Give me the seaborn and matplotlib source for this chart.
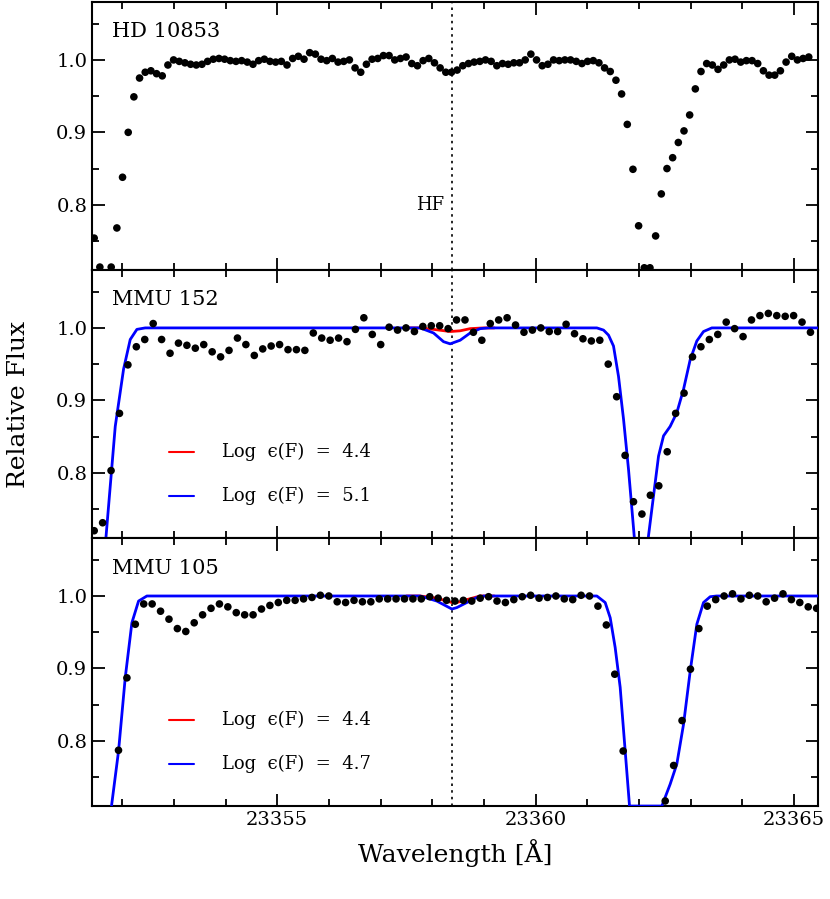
import numpy as np
import pandas as pd
import seaborn as sns
import matplotlib.pyplot as plt
from matplotlib.ticker import MultipleLocator

sns.set_style("ticks")
plt.rcParams['font.family'] = ['DejaVu Serif', 'DejaVu Sans']
for key in ['text.color', 'axes.labelcolor', 'xtick.color', 'ytick.color', 'axes.edgecolor']:
    plt.rcParams[key] = 'black'

# observed spectra (uniform wavelength sampling)
hd_start, hd_step = 23351.35, 0.1097
hd_flux = [0.823, 0.754, 0.714, 0.70, 0.714, 0.768, 0.838, 0.900, 0.949, 0.975,
           0.983, 0.985, 0.981, 0.978, 0.993, 1.0,
           0.998, 0.996, 0.994, 0.993, 0.994, 0.998, 1.001, 1.002, 1.001, 0.999,
           0.998, 0.999, 0.997, 0.994, 0.999, 1.001, 0.998, 0.997, 0.998, 0.993,
           1.002, 1.005, 1.001, 1.010, 1.008, 1.001, 0.999, 1.002, 0.997, 0.998,
           1.0, 0.989, 0.983, 0.994, 1.001, 1.002, 1.006, 1.006, 1.0, 1.002,
           1.004, 0.995, 0.992, 0.999, 1.002, 0.996, 0.989, 0.983, 0.983, 0.986,
           0.992, 0.995, 0.997, 0.998, 1.0, 0.998, 0.992, 0.995, 0.994, 0.996,
           0.996, 1.0, 1.008, 1.0, 0.992, 0.994, 1.0, 0.999, 1.0, 1.0,
           0.998, 0.995, 0.998, 0.999, 0.996, 0.989, 0.984, 0.972, 0.953, 0.911,
           0.849, 0.771, 0.713, 0.713, 0.757, 0.815, 0.850, 0.865, 0.886, 0.902,
           0.924, 0.960, 0.984, 0.995, 0.993, 0.987, 0.993, 1.0, 1.001, 0.997,
           0.999, 0.999, 0.995, 0.985, 0.979, 0.979, 0.985, 0.997, 1.005, 1.0,
           1.002, 1.004]

m152_start, m152_step = 23351.46, 0.163
m152_flux = [0.720, 0.731, 0.803, 0.882, 0.949, 0.974, 0.984, 1.006, 0.984, 0.965,
             0.979, 0.976, 0.972, 0.977, 0.967, 0.960, 0.969, 0.986, 0.977, 0.962,
             0.971, 0.975, 0.977, 0.970, 0.970, 0.969, 0.993, 0.986, 0.983, 0.986,
             0.981, 0.998, 1.014, 0.991, 0.977, 1.001, 0.997, 1.0, 0.995, 1.002,
             1.003, 1.003, 0.999,
             1.011, 1.011, 0.994, 0.983, 1.006, 1.011, 1.014, 1.004, 0.994, 0.997,
             1.0, 0.995, 0.995, 1.005, 0.992, 0.985, 0.982, 0.983, 0.950, 0.905,
             0.824, 0.760, 0.743, 0.769, 0.782, 0.829, 0.882, 0.910, 0.960, 0.974,
             0.984, 0.991, 1.008, 0.999, 0.988, 1.011, 1.017, 1.020, 1.017, 1.016,
             1.017, 1.008, 0.994]

m105_start, m105_step = 23351.93, 0.1627
m105_flux = [0.787, 0.887, 0.961, 0.989, 0.989, 0.979, 0.968, 0.955, 0.951, 0.963,
             0.974, 0.983, 0.989, 0.985, 0.977, 0.974, 0.974, 0.982, 0.987, 0.991,
             0.994, 0.994, 0.996, 0.998, 1.001, 1.0, 0.992, 0.991, 0.994, 0.992,
             0.992, 0.996, 0.996, 0.996, 0.996, 0.996, 0.996, 0.999, 0.997, 0.994,
             0.993,
             0.994, 0.993, 0.997, 0.999, 0.993, 0.991, 0.995, 0.999, 1.001, 0.997,
             0.998, 1.0, 0.996, 0.995, 1.001, 1.0, 0.986, 0.960, 0.892, 0.786,
             0.65, 0.65, 0.65, 0.65, 0.717, 0.766, 0.828, 0.899, 0.955, 0.986,
             0.995, 1.0, 1.003, 0.996, 1.001, 1.0, 0.992, 0.997, 1.003, 0.995,
             0.991, 0.985, 0.983]

# synthetic spectra
m152_blue_w = [23351.62, 23351.69, 23351.867, 23352.028, 23352.157, 23352.286, 23352.447,
               23357.766, 23358.024, 23358.217, 23358.346, 23358.539, 23358.733, 23358.926,
               23359.087, 23361.183, 23361.312, 23361.409, 23361.505, 23361.602, 23361.699,
               23361.795, 23361.905, 23362.05, 23362.182, 23362.279, 23362.376, 23362.473,
               23362.601, 23362.730, 23362.859, 23362.988, 23363.117, 23363.246, 23363.407,
               23365.6]
m152_blue_f = [0.65, 0.713, 0.864, 0.943, 0.984, 0.998, 1.0,
               1.0, 0.993, 0.981, 0.978, 0.983, 0.993, 0.999,
               1.0, 1.0, 0.997, 0.990, 0.975, 0.933, 0.874,
               0.805, 0.713, 0.60, 0.713, 0.768, 0.823, 0.851,
               0.864, 0.883, 0.915, 0.956, 0.982, 0.995, 1.0,
               1.0]
m152_red_w = [23357.5, 23357.766, 23358.024, 23358.346, 23358.539, 23358.733, 23358.991, 23359.2]
m152_red_f = [1.0, 1.0, 0.998, 0.995, 0.996, 0.999, 1.0, 1.0]

m105_blue_w = [23351.75, 23351.80, 23351.931, 23352.06, 23352.189, 23352.318, 23352.479,
               23357.766, 23358.088, 23358.379, 23358.475, 23358.668, 23358.862, 23358.991,
               23361.183, 23361.344, 23361.441, 23361.537, 23361.634, 23361.731, 23361.815,
               23362.44, 23362.60, 23362.73, 23362.86, 23362.99, 23363.117, 23363.246,
               23363.375, 23363.5, 23365.6]
m105_blue_f = [0.68, 0.713, 0.786, 0.887, 0.963, 0.993, 1.0,
               1.0, 0.993, 0.982, 0.984, 0.991, 0.998, 1.0,
               1.0, 0.991, 0.970, 0.929, 0.874, 0.786, 0.71,
               0.71, 0.74, 0.768, 0.823, 0.897, 0.961, 0.991,
               0.999, 1.0, 1.0]
m105_red_w = [23357.5, 23357.766, 23358.088, 23358.379, 23358.475, 23358.668, 23358.926, 23359.2]
m105_red_f = [1.0, 1.0, 0.997, 0.991, 0.991, 0.995, 1.0, 1.0]

hf_wave = 23358.38
names = ["HD 10853", "MMU 152", "MMU 105"]


def obs_frame(start, step, flux):
    return pd.DataFrame({"wave": start + step * np.arange(len(flux)), "flux": flux})


fig = plt.figure(figsize=(8.3, 8.99), dpi=100)
left, width = 0.111, 0.8745
bottoms = [0.6997, 0.4016, 0.1034]
height = 0.2981
axes = [fig.add_axes([left, b, width, height]) for b in bottoms]

spectra = [obs_frame(hd_start, hd_step, hd_flux),
           obs_frame(m152_start, m152_step, m152_flux),
           obs_frame(m105_start, m105_step, m105_flux)]
models = [None,
          (m152_red_w, m152_red_f, m152_blue_w, m152_blue_f, "5.1"),
          (m105_red_w, m105_red_f, m105_blue_w, m105_blue_f, "4.7")]

for ax, df, name, mod in zip(axes, spectra, names, models):
    ax.axvline(hf_wave, color='black', ls=(0, (1.5, 2.5)), lw=1.2, zorder=1)
    if mod is not None:
        rw, rf, bw, bf, blab = mod
        sns.lineplot(x=rw, y=rf, ax=ax, color='red', lw=2, sort=False, estimator=None, zorder=2)
        sns.lineplot(x=bw, y=bf, ax=ax, color='blue', lw=2, sort=False, estimator=None, zorder=3)
        ax.plot([0.106, 0.140], [0.321, 0.321], color='red', lw=1.5, transform=ax.transAxes)
        ax.plot([0.106, 0.140], [0.157, 0.157], color='blue', lw=1.5, transform=ax.transAxes)
        ax.text(0.179, 0.321, "Log  ϵ(F)  =  4.4", transform=ax.transAxes,
                va='center', fontsize=13)
        ax.text(0.179, 0.157, "Log  ϵ(F)  =  " + blab, transform=ax.transAxes,
                va='center', fontsize=13)
    sns.scatterplot(data=df, x="wave", y="flux", ax=ax, color='black', s=30,
                    edgecolor='none', zorder=4)
    ax.set_xlim(23351.42, 23365.46)
    ax.set_ylim(0.71, 1.08)
    ax.xaxis.set_major_locator(MultipleLocator(5))
    ax.xaxis.set_minor_locator(MultipleLocator(1))
    ax.yaxis.set_major_locator(MultipleLocator(0.1))
    ax.yaxis.set_minor_locator(MultipleLocator(0.05))
    ax.tick_params(which='both', direction='in', top=True, right=True, width=1.3, colors='black')
    ax.tick_params(which='major', length=9, labelsize=14)
    ax.tick_params(which='minor', length=5)
    ax.set_yticks([0.8, 0.9, 1.0])
    ax.set_yticklabels(["0.8", "0.9", "1.0"])
    for sp in ax.spines.values():
        sp.set_linewidth(1.5)
        sp.set_color('black')
    ax.set_xlabel("")
    ax.set_ylabel("")
    ax.text(0.028, 0.888, name, transform=ax.transAxes, va='center', fontsize=15)
    if ax is not axes[-1]:
        ax.tick_params(labelbottom=False)

axes[-1].set_xticks([23355, 23360, 23365])
axes[-1].set_xticklabels(["23355", "23360", "23365"])
axes[0].text(hf_wave - 0.15, 0.80, "HF", ha='right', va='center', fontsize=13)

fig.text(0.022, 0.55, "Relative Flux", rotation=90, ha='center', va='center', fontsize=18)
fig.text(0.548, 0.051, "Wavelength [Å]", ha='center', va='center', fontsize=18)

fig.savefig("out.png", dpi=100)
